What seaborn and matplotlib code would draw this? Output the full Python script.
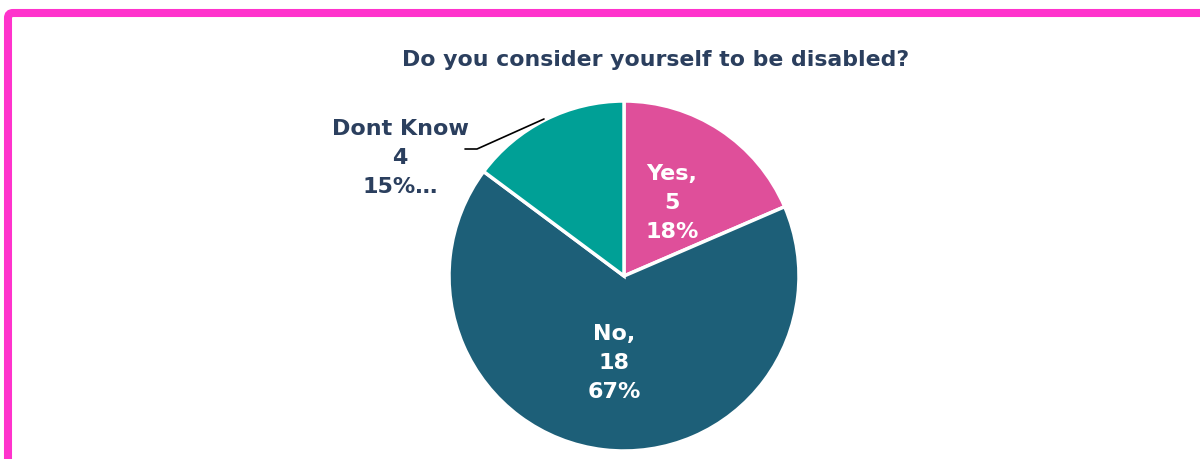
import numpy as np
import matplotlib
matplotlib.use("Agg")
import matplotlib.pyplot as plt
from matplotlib.patches import FancyBboxPatch
import seaborn as sns

# Survey responses
categories = ["Yes", "No", "Dont Know"]
counts = [5, 18, 4]
colors = ["#DF4F9A", "#1D5F78", "#00A096"]

title = "Do you consider yourself to be disabled?"
navy = "#2B3F5E"

sns.set_theme(style="white")
plt.rcParams["font.family"] = ["DejaVu Sans"]

W, H = 1200, 459
fig = plt.figure(figsize=(W / 100, H / 100), dpi=100)
ax = fig.add_axes([0, 0, 1, 1])

cx, cy, r = 624, H - 276, 175
total = sum(counts)

# whole percentages that add up to 100 (largest remainder)
raw = [100 * c / total for c in counts]
pcts = [int(np.floor(v)) for v in raw]
order = sorted(range(len(raw)), key=lambda k: raw[k] - pcts[k], reverse=True)
for k in order[: 100 - sum(pcts)]:
    pcts[k] += 1

wedges, _ = ax.pie(
    counts,
    colors=colors,
    startangle=90,
    counterclock=False,
    center=(cx, cy),
    radius=r,
    frame=True,
    wedgeprops=dict(edgecolor="white", linewidth=2.5),
)

ax.set_xlim(0, W)
ax.set_ylim(0, H)
ax.set_aspect("equal")
ax.axis("off")

# inner labels
for w, cat, n, p in zip(wedges, categories, counts, pcts):
    if cat == "Dont Know":
        continue
    mid = np.deg2rad((w.theta1 + w.theta2) / 2)
    d = 0.5 * r
    x = cx + d * np.cos(mid)
    y = cy + d * np.sin(mid)
    ax.text(x, y, f"{cat},\n{n}\n{p}%", ha="center", va="center",
            color="white", fontsize=16, fontweight="bold", linespacing=1.55)

# outer label with leader line
i = categories.index("Dont Know")
ax.text(400, H - 158, f"{categories[i]}\n{counts[i]}\n{pcts[i]}%…", ha="center",
        va="center", color=navy, fontsize=16, fontweight="bold", linespacing=1.55)
ax.plot([465, 477, 544], [H - 149, H - 149, H - 119], color="black", lw=1.2)

ax.text(656, H - 60, title, ha="center", va="center", color=navy,
        fontsize=15.8, fontweight="bold")

# frame
frame = FancyBboxPatch((8, -200), 1400, H - 13 + 200,
                       boxstyle="round,pad=0,rounding_size=5",
                       fill=False, edgecolor="#FF33CC", linewidth=5.8,
                       clip_on=False)
ax.add_patch(frame)

fig.savefig("out.png", dpi=100, facecolor="white")
